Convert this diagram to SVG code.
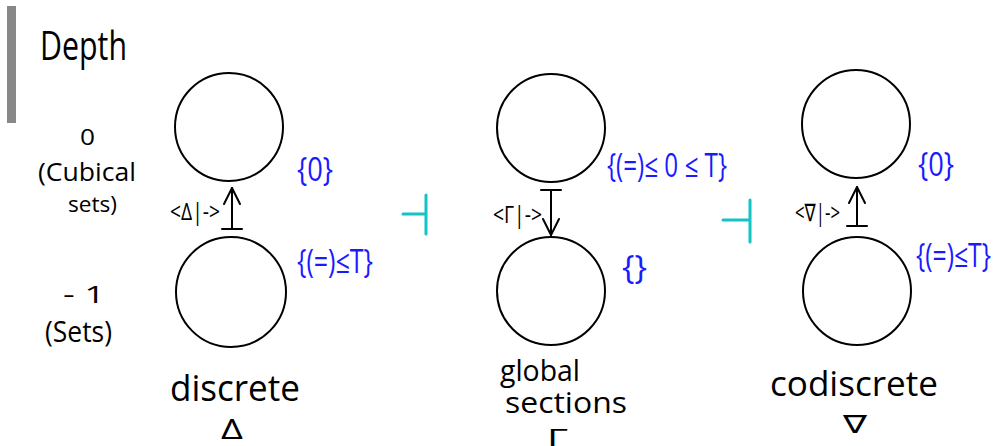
<svg xmlns="http://www.w3.org/2000/svg" width="997" height="446" viewBox="0 0 997 446">
  <defs>
    <style>
      .bg { fill: #ffffff; }
      .obj { fill: none; stroke: #000000; stroke-width: 2; }
      .hand { font-family: "Open Sans", "Noto Sans", "DejaVu Sans", sans-serif; fill: #000000; }
      .set { font-family: "Open Sans", "Noto Sans", "DejaVu Sans", sans-serif; fill: #1a1aff; font-size: 32px; }
      .lbl { font-family: "Open Sans", "Noto Sans", "DejaVu Sans", sans-serif; fill: #000000; font-size: 24px; }
      .map { fill: none; stroke: #000000; stroke-width: 2; stroke-linecap: round; stroke-linejoin: round; }
      .adj { fill: none; stroke: #12c4c4; stroke-width: 3; stroke-linecap: round; }
    </style>
    <marker id="head" markerUnits="userSpaceOnUse" markerWidth="40" markerHeight="40" viewBox="-20 -20 40 40" refX="0" refY="0" orient="auto" overflow="visible">
      <path d="M-16,-8 L0,0 L-16,8" fill="none" stroke="#000000" stroke-width="2" stroke-linecap="round" stroke-linejoin="round"/>
    </marker>
    <marker id="tail" markerUnits="userSpaceOnUse" markerWidth="40" markerHeight="40" viewBox="-20 -20 40 40" refX="0" refY="0" orient="auto" overflow="visible">
      <path d="M0,-10 L0,10" fill="none" stroke="#000000" stroke-width="2" stroke-linecap="round"/>
    </marker>
  </defs>

  <rect class="bg" x="0" y="0" width="997" height="446"/>

  <!-- depth axis -->
  <g id="depth-axis">
    <rect x="7" y="6" width="9" height="117" fill="#888888"/>
    <text class="hand" x="40" y="60" font-size="40" textLength="87" lengthAdjust="spacingAndGlyphs">Depth</text>
    <text class="hand" x="80" y="145" font-size="22" textLength="15" lengthAdjust="spacingAndGlyphs">0</text>
    <text class="hand" x="38" y="181" font-size="25" textLength="98" lengthAdjust="spacingAndGlyphs">(Cubical</text>
    <text class="hand" x="68" y="212" font-size="22" textLength="49" lengthAdjust="spacingAndGlyphs">sets)</text>
    <text class="hand" x="63" y="303" font-size="24" textLength="42" lengthAdjust="spacingAndGlyphs">- 1</text>
    <text class="hand" x="45" y="342" font-size="30" textLength="67" lengthAdjust="spacingAndGlyphs">(Sets)</text>
  </g>

  <!-- discrete column -->
  <g id="discrete-top">
    <circle class="obj" cx="229" cy="127" r="54"/>
    <text class="set" x="297" y="181" textLength="36" lengthAdjust="spacingAndGlyphs">{0}</text>
  </g>
  <g id="discrete-bottom">
    <circle class="obj" cx="231" cy="292" r="55"/>
    <text class="set" x="297" y="273" textLength="76" lengthAdjust="spacingAndGlyphs">{(=)≤T}</text>
  </g>
  <g id="discrete-label">
    <text class="hand" x="170" y="401" font-size="36" textLength="130" lengthAdjust="spacingAndGlyphs">discrete</text>
    <text class="hand" x="221" y="439" font-size="27" textLength="22" lengthAdjust="spacingAndGlyphs">Δ</text>
  </g>

  <!-- global sections column -->
  <g id="global-top">
    <circle class="obj" cx="551" cy="128" r="54"/>
    <text class="set" x="607" y="177" textLength="120" lengthAdjust="spacingAndGlyphs">{(=)≤ 0 ≤ T}</text>
  </g>
  <g id="global-bottom">
    <circle class="obj" cx="551" cy="291" r="54"/>
    <text class="set" x="622" y="279" textLength="25" lengthAdjust="spacingAndGlyphs">{}</text>
  </g>
  <g id="global-label">
    <text class="hand" x="500" y="381" font-size="29" textLength="80" lengthAdjust="spacingAndGlyphs">global</text>
    <text class="hand" x="505" y="413" font-size="29" textLength="122" lengthAdjust="spacingAndGlyphs">sections</text>
    <text class="hand" x="547" y="446" font-size="24" textLength="21" lengthAdjust="spacingAndGlyphs">Γ</text>
  </g>

  <!-- codiscrete column -->
  <g id="codiscrete-top">
    <circle class="obj" cx="856" cy="124" r="54"/>
    <text class="set" x="918" y="176" textLength="36" lengthAdjust="spacingAndGlyphs">{0}</text>
  </g>
  <g id="codiscrete-bottom">
    <circle class="obj" cx="857" cy="291" r="54"/>
    <text class="set" x="916" y="267" textLength="75" lengthAdjust="spacingAndGlyphs">{(=)≤T}</text>
  </g>
  <g id="codiscrete-label">
    <text class="hand" x="770" y="396" font-size="34" textLength="168" lengthAdjust="spacingAndGlyphs">codiscrete</text>
    <text class="hand" x="843" y="433" font-size="25" textLength="24" lengthAdjust="spacingAndGlyphs">∇</text>
  </g>

  <!-- maps between depths and adjunctions -->
  <g id="connectors">
    <path class="map" d="M232,229 L232,188" marker-start="url(#tail)" marker-end="url(#head)"/>
    <text class="lbl" x="170" y="220" textLength="50" lengthAdjust="spacingAndGlyphs">&lt;Δ|-&gt;</text>

    <path class="map" d="M551,190 L551,235" marker-start="url(#tail)" marker-end="url(#head)"/>
    <text class="lbl" x="493" y="223" textLength="49" lengthAdjust="spacingAndGlyphs">&lt;Γ|-&gt;</text>

    <path class="map" d="M857,226 L857,187" marker-start="url(#tail)" marker-end="url(#head)"/>
    <text class="lbl" x="795" y="221" textLength="45" lengthAdjust="spacingAndGlyphs">&lt;∇|-&gt;</text>

    <path class="adj" d="M403,214 H426 M426,195 V234"/>
    <path class="adj" d="M723,220 H750 M750,200 V242"/>
  </g>
</svg>
